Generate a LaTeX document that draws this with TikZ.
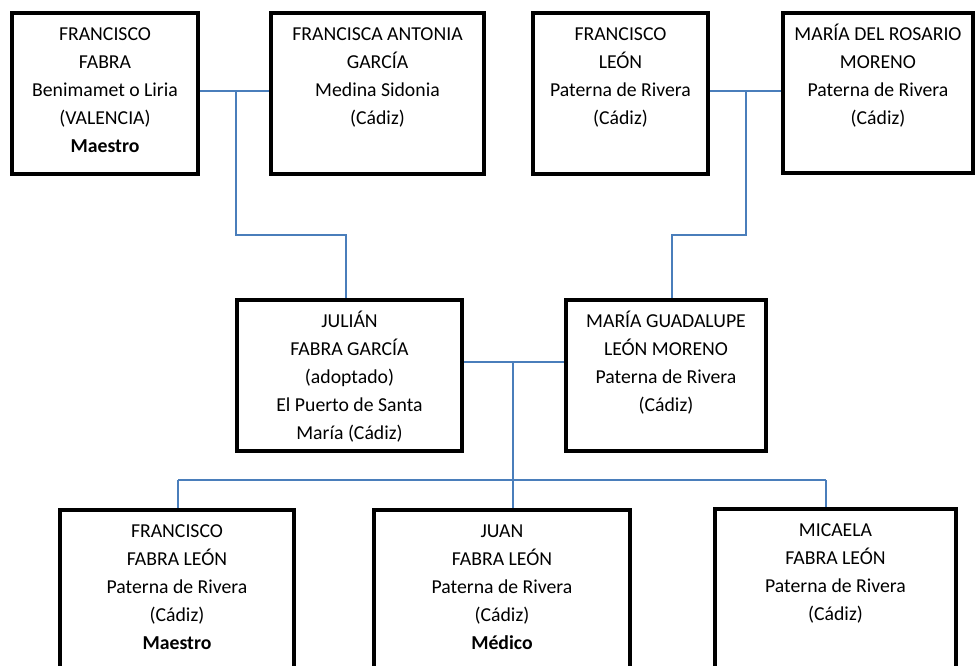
\documentclass[tikz,border=0pt]{standalone}
\usepackage{fontspec}
\setmainfont{Carlito}
\usetikzlibrary{fit}
\definecolor{linkblue}{RGB}{74,126,187}
\begin{document}
\begin{tikzpicture}[x=0.75pt,y=-0.75pt,
  box/.style={draw=black, line width=3pt, inner sep=0pt},
  txt/.style={anchor=north, align=center, inner sep=0pt, font=\fontsize{14.8}{21}\selectfont},
  conn/.style={draw=linkblue, line width=1.1pt}]
\useasboundingbox (0,0) rectangle (975,665);
\clip (0,0) rectangle (975,665);
% boxes
\node[box, fit={(12,13) (198,174)}] (b1) {};
\node[box, fit={(271,13) (484,174)}] (b2) {};
\node[box, fit={(533,13) (708,174)}] (b3) {};
\node[box, fit={(783,13) (973,173)}] (b4) {};
\node[box, fit={(237,300) (462,451)}] (j) {};
\node[box, fit={(566,300) (766,451)}] (g) {};
\node[box, fit={(60,510) (294,720)}] (c1) {};
\node[box, fit={(374,510) (630,720)}] (c2) {};
\node[box, fit={(715,509) (956,720)}] (c3) {};
% texts
\node[txt] (t1) at ([yshift=-7pt]b1.north) {\strut FRANCISCO\\FABRA\\Benimamet o Liria\\(VALENCIA)\\\textbf{Maestro}};
\node[txt] (t2) at ([yshift=-7pt]b2.north) {\strut FRANCISCA ANTONIA\\GARCÍA\\Medina Sidonia\\(Cádiz)};
\node[txt] (t3) at ([yshift=-7pt]b3.north) {\strut FRANCISCO\\LEÓN\\Paterna de Rivera\\(Cádiz)};
\node[txt] (t4) at ([yshift=-7pt]b4.north) {\strut MARÍA DEL ROSARIO\\MORENO\\Paterna de Rivera\\(Cádiz)};
\node[txt] (tj) at ([yshift=-7pt]j.north) {\strut JULIÁN\\FABRA GARCÍA\\(adoptado)\\El Puerto de Santa\\María (Cádiz)};
\node[txt] (tg) at ([yshift=-7pt]g.north) {\strut MARÍA GUADALUPE\\LEÓN MORENO\\Paterna de Rivera\\(Cádiz)};
\node[txt] (tc1) at ([yshift=-7pt]c1.north) {\strut FRANCISCO\\FABRA LEÓN\\Paterna de Rivera\\(Cádiz)\\\textbf{Maestro}};
\node[txt] (tc2) at ([yshift=-7pt]c2.north) {\strut JUAN\\FABRA LEÓN\\Paterna de Rivera\\(Cádiz)\\\textbf{Médico}};
\node[txt] (tc3) at ([yshift=-7pt]c3.north) {\strut MICAELA\\FABRA LEÓN\\Paterna de Rivera\\(Cádiz)};
% connector coordinates
\coordinate (m1) at (236,91);
\coordinate (k1) at (346,235);
\coordinate (m2) at (746,91);
\coordinate (k2) at (672,235);
\coordinate (m3) at (513,362);
\coordinate (m4) at (513,480);
\coordinate (d1) at (178,480);
\coordinate (d3) at (826,480);
% connectors
\draw[conn] (b1.east |- m1) -- (b2.west |- m1);
\draw[conn] (m1) |- (k1) -- (k1 |- j.north);
\draw[conn] (b3.east |- m2) -- (b4.west |- m2);
\draw[conn] (m2) |- (k2) -- (k2 |- g.north);
\draw[conn] (j.east |- m3) -- (g.west |- m3);
\draw[conn] (m3) -- (m4 |- c2.north);
\draw[conn] (d1) -- (d3);
\draw[conn] (d1) -- (d1 |- c1.north);
\draw[conn] (d3) -- (d3 |- c3.north);
\end{tikzpicture}
\end{document}
